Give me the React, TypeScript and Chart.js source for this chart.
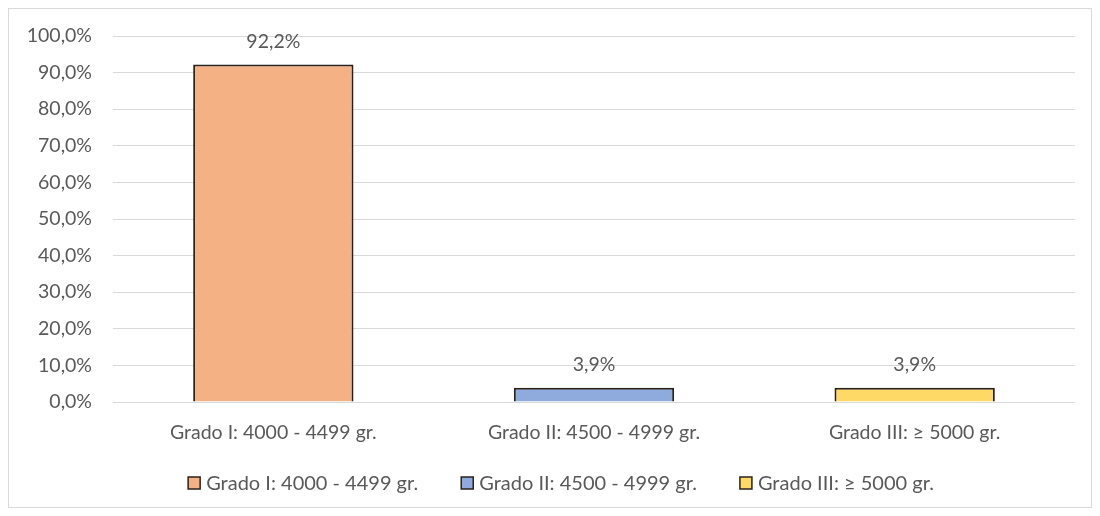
import React, { useEffect, useRef } from "react";
import { Chart, registerables } from "chart.js";

Chart.register(...registerables);

const categories = ["Grado I: 4000 - 4499 gr.", "Grado II: 4500 - 4999 gr.", "Grado III: ≥ 5000 gr."];
const percentages = [92.2, 3.9, 3.9];
const barColors = ["#F4B183", "#8FAADC", "#FFD966"];
const yTicks = [0, 10, 20, 30, 40, 50, 60, 70, 80, 90, 100];

const FONT = "Lato, 'Open Sans', sans-serif";
const TEXT = "#595959";
const EDGE = "#2b211b";
const SIZE = 19.5;

const fmt = (v: number, d: number) => v.toFixed(d).replace(".", ",") + "%";

// Writes each bar's percentage just above its top edge
const valueLabels = {
  id: "valueLabels",
  afterDatasetsDraw(chart: any) {
    const { ctx } = chart;
    ctx.save();
    ctx.font = `${SIZE}px ${FONT}`;
    ctx.fillStyle = TEXT;
    ctx.textAlign = "center";
    ctx.textBaseline = "middle";
    chart.data.datasets.forEach((ds: any, di: number) => {
      const meta = chart.getDatasetMeta(di);
      meta.data.forEach((bar: any, i: number) => {
        const v = ds.data[i];
        if (v == null) return;
        ctx.fillText(fmt(v, 1), bar.x, bar.y - 23);
      });
    });
    ctx.restore();
  },
};

// Single-row legend below the category labels: small framed swatch, then the series name
const bottomLegend = {
  id: "bottomLegend",
  afterDraw(chart: any) {
    const { ctx } = chart;
    const box = 12, gapText = 6, gapItem = 43;
    ctx.save();
    ctx.font = `20px ${FONT}`;
    ctx.textBaseline = "middle";
    ctx.textAlign = "left";
    const items = chart.data.datasets.map((ds: any) => ({
      text: ds.label as string,
      color: ds.backgroundColor as string,
      w: ctx.measureText(ds.label).width,
    }));
    const total = items.reduce((s: number, it: any) => s + box + gapText + it.w, 0) + gapItem * (items.length - 1);
    let x = 552 - total / 2;
    const y = chart.chartArea.bottom + 81;
    items.forEach((it: any) => {
      ctx.fillStyle = it.color;
      ctx.fillRect(x, y - box / 2, box, box);
      ctx.strokeStyle = EDGE;
      ctx.lineWidth = 1.5;
      ctx.strokeRect(x, y - box / 2, box, box);
      ctx.fillStyle = TEXT;
      ctx.fillText(it.text, x + box + gapText, y + 1);
      x += box + gapText + it.w + gapItem;
    });
    ctx.restore();
  },
};

export default function App() {
  const ref = useRef<HTMLCanvasElement>(null);

  useEffect(() => {
    if (!ref.current) return;
    const datasets = categories.map((name, k) => ({
      label: name,
      data: percentages.map((v, i) => (i === k ? v : null)),
      backgroundColor: barColors[k],
      borderColor: EDGE,
      borderWidth: 2,
      borderSkipped: "bottom" as const,
      categoryPercentage: 1,
      barPercentage: 0.5,
      skipNull: true,
    }));
    const chart = new Chart(ref.current, {
      type: "bar",
      data: { labels: categories, datasets },
      plugins: [valueLabels, bottomLegend],
      options: {
        animation: false,
        responsive: false,
        maintainAspectRatio: false,
        layout: { padding: { left: 0, right: 16, top: 27, bottom: 60 } },
        scales: {
          x: {
            grid: { display: false, drawTicks: false },
            border: { display: false },
            ticks: { color: TEXT, font: { family: FONT, size: SIZE }, padding: 19 },
            afterFit: (s: any) => { s.height = 45; },
          },
          y: {
            min: 0,
            max: 100,
            afterBuildTicks: (s: any) => { s.ticks = yTicks.map((v) => ({ value: v })); },
            // invisible tick marks keep the labels clear of the grid
            grid: { color: "#D9D9D9", drawTicks: true, tickLength: 18, tickColor: "rgba(0,0,0,0)", lineWidth: 1 },
            border: { display: false },
            ticks: {
              color: TEXT,
              font: { family: FONT, size: SIZE },
              padding: 3,
              callback: (v: any) => fmt(Number(v), 1),
            },
            afterFit: (s: any) => { s.width = 104; },
          },
        },
        plugins: {
          tooltip: { enabled: false },
          legend: { display: false },
        },
      },
    });
    return () => chart.destroy();
  }, []);

  return (
    <div style={{ width: 1082, height: 498, border: "1px solid #D9D9D9", background: "#fff" }}>
      <canvas ref={ref} width={1082} height={498} style={{ display: "block" }} />
    </div>
  );
}
